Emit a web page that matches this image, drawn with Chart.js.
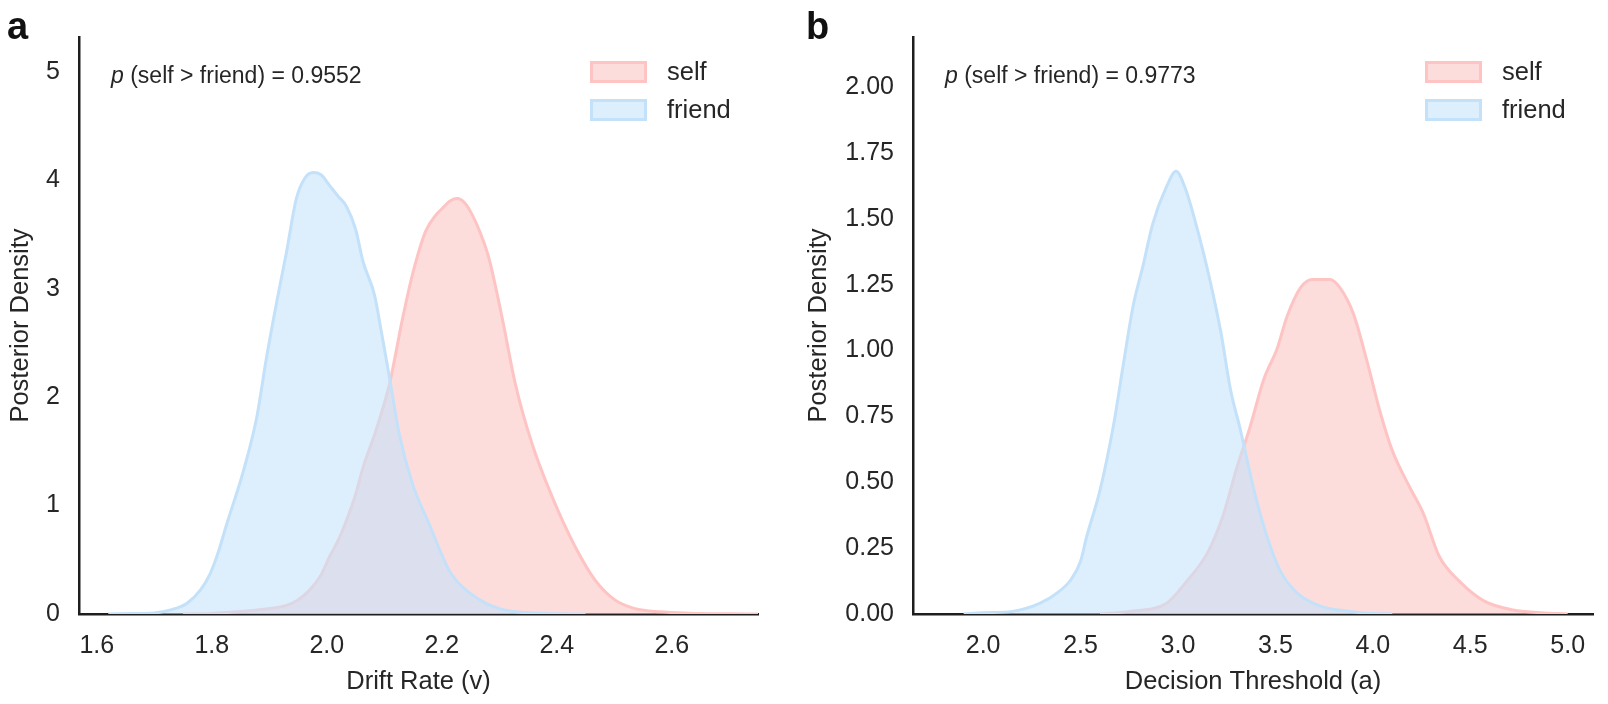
<!DOCTYPE html>
<html lang="en">
<head>
<meta charset="utf-8">
<title>Posterior densities: self vs friend</title>
<script src="https://cdn.jsdelivr.net/npm/chart.js@4.4.0/dist/chart.umd.min.js"></script>
<style>
  body { margin: 0; background: #fff; width: 1608px; height: 704px; position: relative; overflow: hidden; }
  canvas { position: absolute; top: 0; }
  .tag { position: absolute; top: 7px; z-index: 2; font: bold 38px/38px 'Liberation Sans', Arial, sans-serif; color: #111; }
</style>
</head>
<body>
<div class="tag" style="left:7px">a</div>
<canvas id="driftChart" width="790" height="704" style="left:0"></canvas>
<div class="tag" style="left:806px">b</div>
<canvas id="thresholdChart" width="808" height="704" style="left:800px"></canvas>

<script>
// panel a - drift rate (v)
var driftSelfX   = [1.75, 1.80, 1.843, 1.90, 1.93, 1.95, 1.97, 1.99, 2.005, 2.02, 2.034, 2.05, 2.063, 2.086, 2.109, 2.132, 2.149, 2.172, 2.19, 2.201, 2.215, 2.227, 2.24, 2.253, 2.268, 2.282, 2.305, 2.328, 2.357, 2.392, 2.432, 2.467, 2.501, 2.536, 2.58, 2.63, 2.70, 2.75];
var driftSelfY   = [0, 0.005, 0.02, 0.05, 0.08, 0.13, 0.22, 0.36, 0.53, 0.68, 0.86, 1.10, 1.35, 1.70, 2.12, 2.73, 3.13, 3.53, 3.68, 3.74, 3.81, 3.83, 3.79, 3.68, 3.50, 3.28, 2.73, 2.12, 1.57, 1.08, 0.62, 0.31, 0.13, 0.05, 0.02, 0.008, 0.002, 0];
var driftFriendX = [1.62, 1.66, 1.70, 1.73, 1.757, 1.78, 1.797, 1.81, 1.826, 1.855, 1.878, 1.895, 1.913, 1.93, 1.947, 1.962, 1.976, 1.99, 2.005, 2.02, 2.034, 2.05, 2.063, 2.083, 2.095, 2.109, 2.126, 2.149, 2.178, 2.213, 2.236, 2.276, 2.30, 2.328, 2.38, 2.45];
var driftFriendY = [0, 0.005, 0.01, 0.04, 0.10, 0.22, 0.37, 0.55, 0.83, 1.32, 1.81, 2.36, 2.88, 3.34, 3.83, 4.02, 4.07, 4.05, 3.95, 3.85, 3.76, 3.55, 3.25, 2.94, 2.60, 2.18, 1.66, 1.20, 0.83, 0.40, 0.25, 0.10, 0.05, 0.02, 0.005, 0];
var driftXTicks  = [1.6, 1.8, 2.0, 2.2, 2.4, 2.6];
var driftYTicks  = [0, 1, 2, 3, 4, 5];

// panel b - decision threshold (a)
var thrSelfX   = [2.6, 2.75, 2.94, 3.04, 3.15, 3.23, 3.30, 3.37, 3.44, 3.51, 3.56, 3.63, 3.69, 3.78, 3.83, 3.90, 3.97, 4.04, 4.10, 4.19, 4.26, 4.34, 4.45, 4.57, 4.72, 4.86, 5.0];
var thrSelfY   = [0, 0.01, 0.04, 0.12, 0.23, 0.37, 0.55, 0.71, 0.89, 1.01, 1.13, 1.24, 1.27, 1.27, 1.24, 1.14, 0.96, 0.76, 0.62, 0.48, 0.38, 0.22, 0.12, 0.05, 0.015, 0.005, 0];
var thrFriendX = [1.90, 2.0, 2.15, 2.29, 2.38, 2.45, 2.50, 2.53, 2.60, 2.67, 2.72, 2.77, 2.82, 2.87, 2.94, 2.99, 3.04, 3.11, 3.16, 3.22, 3.27, 3.32, 3.39, 3.45, 3.52, 3.61, 3.73, 3.88, 4.0, 4.1];
var thrFriendY = [0, 0.005, 0.01, 0.04, 0.08, 0.13, 0.20, 0.29, 0.47, 0.72, 0.95, 1.17, 1.32, 1.48, 1.62, 1.68, 1.61, 1.43, 1.28, 1.07, 0.85, 0.70, 0.47, 0.31, 0.17, 0.08, 0.03, 0.01, 0.002, 0];
var thrXTicks  = [2.0, 2.5, 3.0, 3.5, 4.0, 4.5, 5.0];
var thrYTicks  = [0, 0.25, 0.5, 0.75, 1.0, 1.25, 1.5, 1.75, 2.0];

var seriesNames = ['self', 'friend'];
var pDrift = '0.9552';
var pThreshold = '0.9773';

var textColor = '#262626';
var selfLine = 'rgb(254,196,196)';
var selfFill = 'rgba(252,197,197,0.6)';
var friendLine = 'rgb(196,225,250)';
var friendFill = 'rgba(198,227,250,0.6)';
var fontFamily = "'Liberation Sans', Arial, sans-serif";

Chart.defaults.font.family = fontFamily;
Chart.defaults.color = textColor;

function points(xs, ys) {
    return xs.map(function (x, i) { return { x: x, y: ys[i] }; });
}

// p-value note and the boxed legend in the top of the plot area
var panelText = {
    id: 'panelText',
    afterDatasetsDraw: function (chart, args, opts) {
        var ctx = chart.ctx, area = chart.chartArea;
        ctx.save();
        ctx.textBaseline = 'middle';
        ctx.fillStyle = textColor;
        var x = area.left + 32, y = area.top + 40;
        ctx.font = 'italic 23px ' + fontFamily;
        ctx.fillText('p', x, y);
        x += ctx.measureText('p').width;
        ctx.font = '23px ' + fontFamily;
        ctx.fillText(' (self > friend) = ' + opts.p, x, y);

        chart.data.datasets.forEach(function (ds, i) {
            var bx = area.right - 168, by = area.top + 24 + i * 38;
            ctx.fillStyle = ds.backgroundColor;
            ctx.fillRect(bx, by, 57, 22);
            ctx.strokeStyle = ds.borderColor;
            ctx.lineWidth = 3;
            ctx.strokeRect(bx + 1.5, by + 1.5, 54, 19);
            ctx.fillStyle = textColor;
            ctx.font = '25.5px ' + fontFamily;
            ctx.fillText(ds.label, bx + 77, by + 12);
        });
        ctx.restore();
    }
};

function makeChart(id, c) {
    return new Chart(document.getElementById(id), {
        type: 'line',
        data: {
            datasets: [
                { label: seriesNames[0], data: points(c.selfX, c.selfY), borderColor: selfLine, backgroundColor: selfFill, fill: 'origin', order: 1 },
                { label: seriesNames[1], data: points(c.friendX, c.friendY), borderColor: friendLine, backgroundColor: friendFill, fill: 'origin', order: 0 }
            ]
        },
        options: {
            responsive: false,
            animation: false,
            layout: { padding: { top: 37, right: c.padRight, bottom: 0, left: 0 } },
            elements: {
                point: { radius: 0 },
                line: { borderWidth: 3, cubicInterpolationMode: 'monotone' }
            },
            plugins: {
                legend: { display: false },
                tooltip: { enabled: false },
                panelText: { p: c.p }
            },
            scales: {
                x: {
                    type: 'linear',
                    min: c.xMin, max: c.xMax,
                    grid: { display: false, drawTicks: false },
                    border: { color: '#1e1e1e', width: 2.5 },
                    afterBuildTicks: function (s) { s.ticks = c.xTicks.map(function (v) { return { value: v }; }); },
                    afterFit: function (s) { s.height = 90; },
                    ticks: { padding: 17, font: { size: 25 }, color: textColor, maxRotation: 0,
                             callback: function (v) { return v.toFixed(1); } },
                    title: { display: true, text: c.xTitle, font: { size: 25.5 }, color: textColor, padding: { top: 0, bottom: 7 } }
                },
                y: {
                    min: 0, max: c.yMax,
                    grid: { display: false, drawTicks: false },
                    border: { color: '#1e1e1e', width: 2.5 },
                    afterBuildTicks: function (s) { s.ticks = c.yTicks.map(function (v) { return { value: v }; }); },
                    afterFit: function (s) { s.width = c.yWidth; },
                    ticks: { padding: 19, font: { size: 25 }, color: textColor,
                             callback: function (v) { return v.toFixed(c.yDigits); } },
                    title: { display: true, text: 'Posterior Density', font: { size: 25.5 }, color: textColor, padding: { top: c.yTitlePad, bottom: 0 } }
                }
            }
        },
        plugins: [panelText]
    });
}

makeChart('driftChart', {
    selfX: driftSelfX, selfY: driftSelfY, friendX: driftFriendX, friendY: driftFriendY,
    xTicks: driftXTicks, yTicks: driftYTicks, xMin: 1.569, xMax: 2.75, yMax: 5.32, yDigits: 0,
    xTitle: 'Drift Rate (v)', p: pDrift, padRight: 32, yWidth: 79, yTitlePad: 6
});

makeChart('thresholdChart', {
    selfX: thrSelfX, selfY: thrSelfY, friendX: thrFriendX, friendY: thrFriendY,
    xTicks: thrXTicks, yTicks: thrYTicks, xMin: 1.64, xMax: 5.13, yMax: 2.19, yDigits: 2,
    xTitle: 'Decision Threshold (a)', p: pThreshold, padRight: 15, yWidth: 113, yTitlePad: 4
});
</script>
</body>
</html>
